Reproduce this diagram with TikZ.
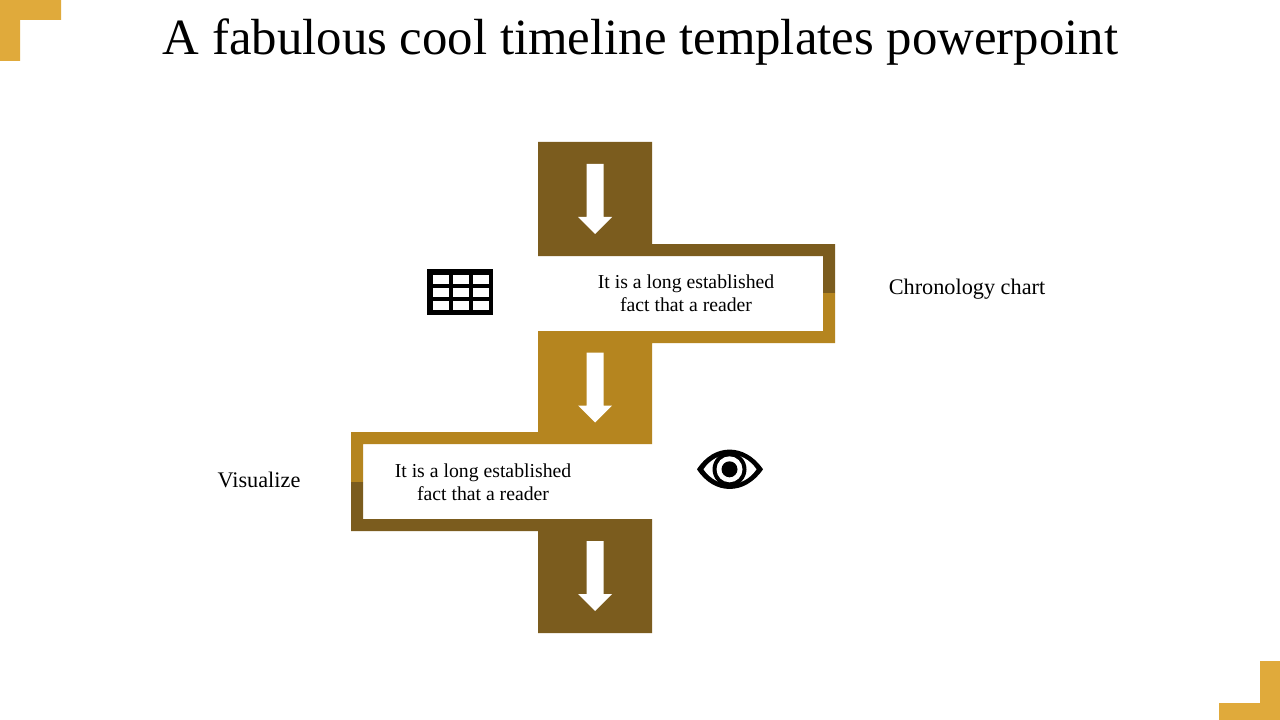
\documentclass[tikz,border=0pt]{standalone}
\usepackage{fontspec}
\setmainfont{Liberation Serif}
\definecolor{darkbrown}{HTML}{7B5C1E}
\definecolor{goldbrown}{HTML}{B5851F}
\definecolor{cornergold}{HTML}{E0AA3B}
\tikzset{
  titletext/.style={inner sep=0pt,anchor=center,font=\fontsize{38.1pt}{44pt}\selectfont},
  bodytext/.style={inner sep=0pt,anchor=center,align=center,font=\fontsize{14.8pt}{17.25pt}\selectfont},
  labeltext/.style={inner sep=0pt,anchor=center,font=\fontsize{16.7pt}{19pt}\selectfont},
  whitearrow/.style={fill=white,draw=none},
}
\newcommand{\downarrowshape}[1]{%
  \fill[whitearrow] (586.5,#1) -- (603.5,#1) -- (603.5,#1+53) -- (612,#1+53) -- (595,#1+70) -- (578,#1+53) -- (586.5,#1+53) -- cycle;}
\begin{document}
\begin{tikzpicture}[x=0.75pt,y=-0.75pt]
\useasboundingbox[fill=white] (0,0) rectangle (1280,720);
% corners
\fill[cornergold] (0,0) -- (61,0) -- (61,20) -- (20,20) -- (20,61) -- (0,61) -- cycle;
\fill[cornergold] (1280,720) -- (1219,720) -- (1219,703) -- (1260,703) -- (1260,661) -- (1280,661) -- cycle;
% ribbon
\fill[darkbrown] (538,142) -- (652,142) -- (652,244) -- (835,244) -- (835,293) -- (823,293) -- (823,256) -- (538,256) -- cycle;
\fill[goldbrown] (823,293) -- (835,293) -- (835,343) -- (652,343) -- (652,444) -- (363,444) -- (363,482) -- (351,482) -- (351,432) -- (538,432) -- (538,331) -- (823,331) -- cycle;
\fill[darkbrown] (351,482) -- (363,482) -- (363,519) -- (652,519) -- (652,633) -- (538,633) -- (538,531) -- (351,531) -- cycle;
% arrows
\downarrowshape{164}
\downarrowshape{352.5}
\downarrowshape{541}
% table icon
\fill[black] (427.3,269) rectangle (493.2,315.3);
\foreach \xa/\xb in {432.8/449,452.8/469,472.8/488.8}
  \foreach \ya/\yb in {274.7/283.5,287.7/296.7,301/310.3}
    \fill[white] (\xa,\ya) rectangle (\xb,\yb);
% eye icon
\fill[black] (697,469.3) .. controls (714,443) and (745,443) .. (763,469.3) .. controls (745,495.5) and (714,495.5) .. (697,469.3) -- cycle;
\fill[white] (703.5,469.3) .. controls (717,449.5) and (743,449.5) .. (756.5,469.3) .. controls (743,489) and (717,489) .. (703.5,469.3) -- cycle;
\fill[black] (729.5,469.3) circle (17);
\fill[white] (729.5,469.3) circle (13);
\fill[black] (729.5,469.3) circle (8);
% text
\node[titletext] (title) at (640.5,42) {A fabulous cool timeline templates powerpoint};
\node[bodytext] (bodyone) at (686,293.5) {It is a long established\\fact that a reader};
\node[bodytext] (bodytwo) at (483,482.5) {It is a long established\\fact that a reader};
\node[labeltext] (chrono) at (967,289) {Chronology chart};
\node[labeltext] (visual) at (259,479.5) {Visualize};
\end{tikzpicture}
\end{document}
